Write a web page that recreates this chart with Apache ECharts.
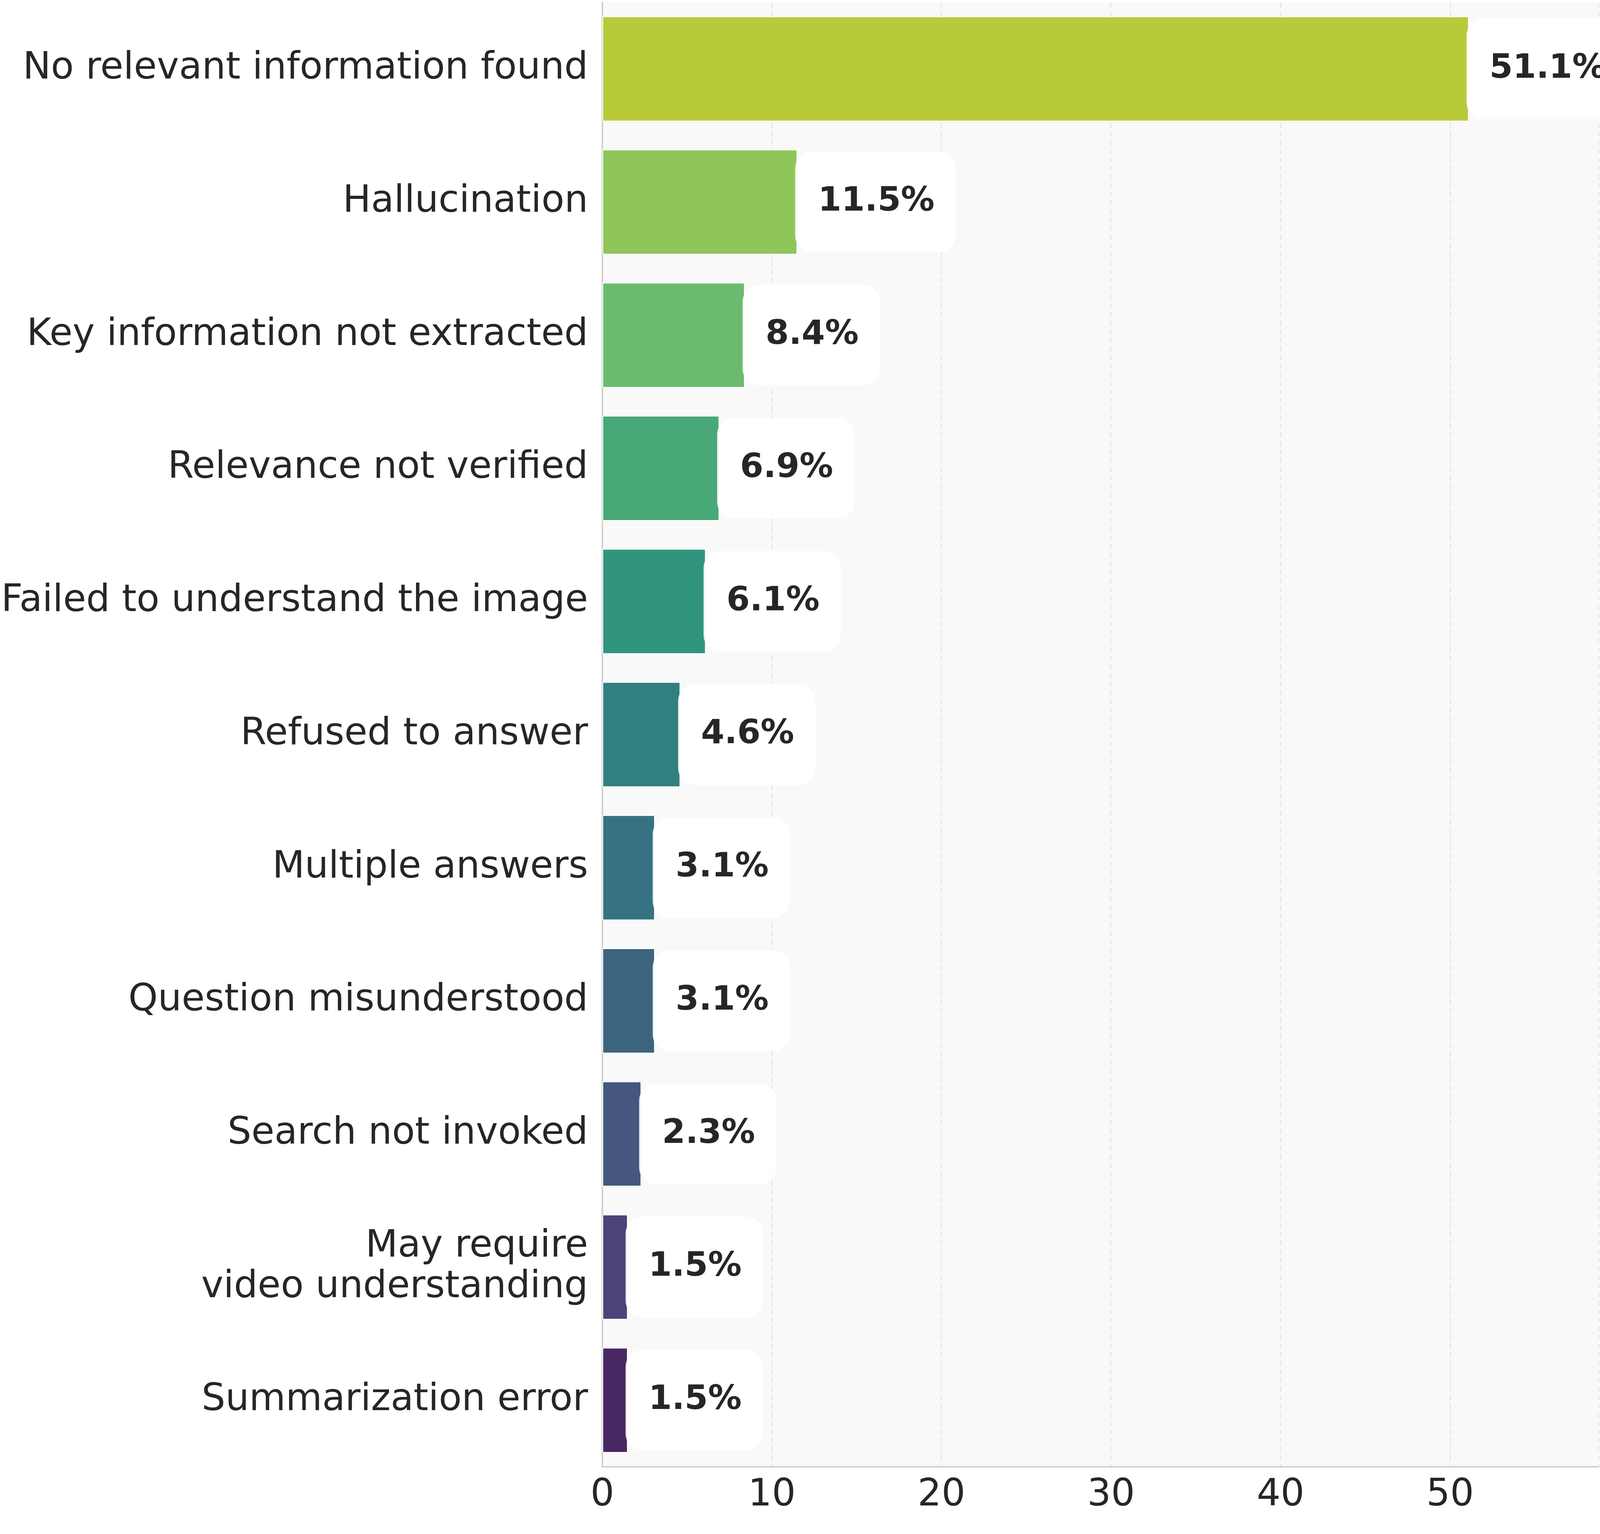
<!DOCTYPE html>
<html>
<head>
<meta charset="utf-8">
<script src="https://cdn.jsdelivr.net/npm/echarts@6/dist/echarts.min.js"></script>
<style>
  html, body { margin: 0; padding: 0; background: #ffffff; overflow: hidden; }
  #chart { width: 100vw; height: 100vh; }
</style>
</head>
<body>
<div id="chart"></div>
<script>
// error categories, top to bottom
var categories = [
  "No relevant information found",
  "Hallucination",
  "Key information not extracted",
  "Relevance not verified",
  "Failed to understand the image",
  "Refused to answer",
  "Multiple answers",
  "Question misunderstood",
  "Search not invoked",
  "May require\nvideo understanding",
  "Summarization error"
];
// share of errors, percent
var shares = [51.1, 11.5, 8.4, 6.9, 6.1, 4.6, 3.1, 3.1, 2.3, 1.5, 1.5];
var barColors = [
  "#b8c93a", "#8fc65a", "#6abb6f", "#48a878", "#31957e", "#30807f",
  "#357383", "#3d647e", "#45577e", "#4b4479", "#482863"
];
var xTicks = [0, 10, 20, 30, 40, 50];

var dom = document.getElementById("chart");
// sizes below were measured on a 5719 x 3926 picture; scale to the window
var sx = dom.clientWidth / 5719;
var sy = dom.clientHeight / 3926;
var sf = Math.min(sx, sy);

var gridTop = 6 * sy;
var gridBottom = 172 * sy;
var pitch = (dom.clientHeight - gridTop - gridBottom) / categories.length;
var valueFont = 120 * sf;
var valueLine = 140 * sf;
var boxPadV = Math.max(0, (pitch * 0.757 - valueLine) / 2);

var chart = echarts.init(dom, null, { renderer: "canvas" });

var font = "DejaVu Sans";
var textColor = "#262626";

var option = {
  backgroundColor: "#ffffff",
  animation: false,
  grid: {
    left: 2132 * sx,
    top: gridTop,
    right: 0,
    bottom: gridBottom,
    show: true,
    backgroundColor: "#f9f9f9",
    borderWidth: 0
  },
  xAxis: {
    type: "value",
    min: 0,
    max: 58.77,
    interval: 10,
    axisLine: { show: true, lineStyle: { color: "#cccccc", width: 5 * sf } },
    axisTick: { show: false },
    axisLabel: {
      margin: 26 * sy,
      fontSize: 134 * sf,
      fontFamily: font,
      color: textColor,
      formatter: function (v) {
        return xTicks.indexOf(v) >= 0 ? String(v) : "";
      }
    },
    splitLine: {
      show: true,
      lineStyle: { color: "#e2e2e2", width: 3 * sf, type: [14 * sy, 8 * sy] }
    }
  },
  yAxis: {
    type: "category",
    data: categories,
    inverse: true,
    axisLine: { show: true, lineStyle: { color: "#cccccc", width: 5 * sf } },
    axisTick: { show: false },
    axisLabel: {
      margin: 51 * sx,
      fontSize: 134 * sf,
      lineHeight: 146 * sf,
      fontFamily: font,
      color: textColor,
      align: "right"
    },
    splitLine: { show: false }
  },
  series: [
    {
      type: "bar",
      barCategoryGap: "21%",
      data: shares.map(function (v, i) {
        return { value: v, itemStyle: { color: barColors[i] } };
      }),
      itemStyle: { borderColor: "#ffffff", borderWidth: 3 * sf },
      label: {
        show: true,
        position: "right",
        distance: -8 * sx,
        formatter: function (p) { return p.value.toFixed(1) + "%"; },
        fontFamily: font,
        fontWeight: "bold",
        fontSize: valueFont,
        lineHeight: valueLine,
        color: textColor,
        backgroundColor: "rgba(255,255,255,0.88)",
        borderRadius: 60 * sf,
        padding: [boxPadV, 76 * sx, boxPadV, 82 * sx]
      }
    }
  ]
};

chart.setOption(option);
window.addEventListener("resize", chart.resize);
</script>
</body>
</html>
